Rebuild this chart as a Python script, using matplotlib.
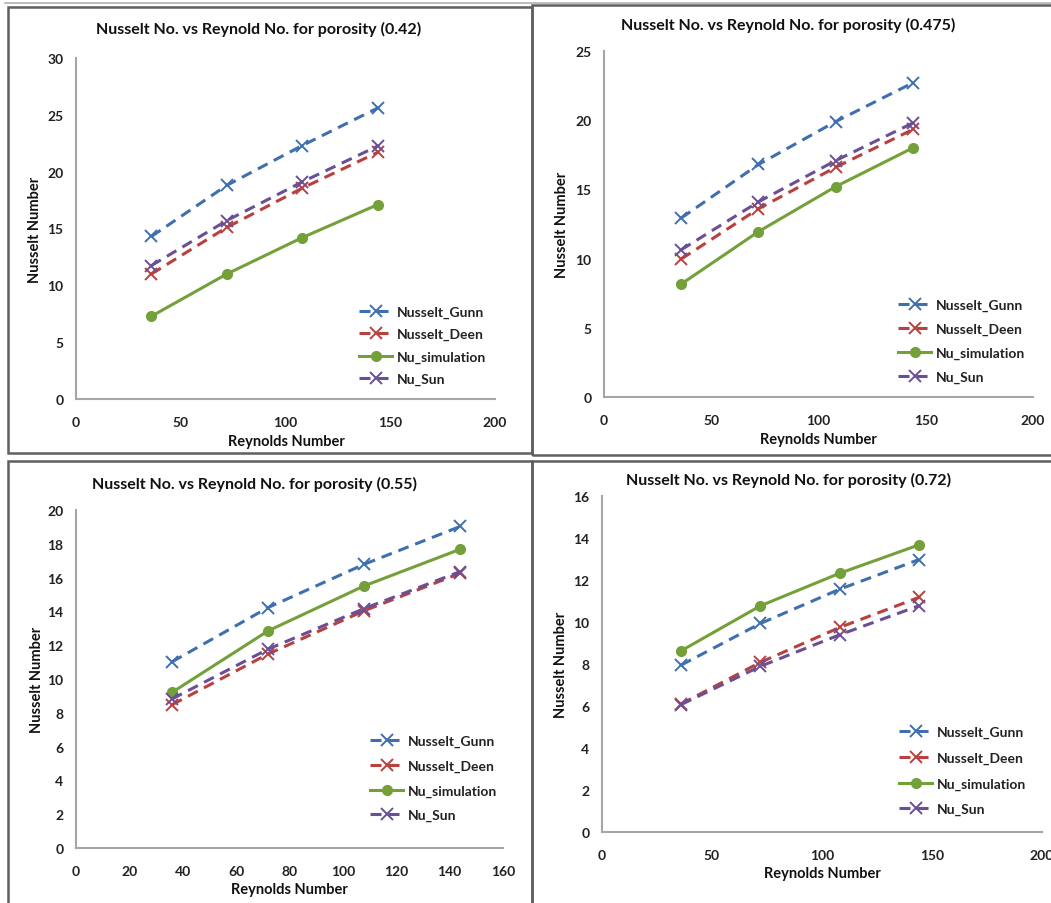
import matplotlib
matplotlib.use("Agg")
import matplotlib.pyplot as plt
from matplotlib.patches import Rectangle
from matplotlib.lines import Line2D

# ---------------- data ----------------
reynolds = [36, 72, 108, 144]

porosity_labels = ["0.42", "0.475", "0.55", "0.72"]

gunn_042 = [14.3, 18.8, 22.3, 25.6]
deen_042 = [11.0, 15.1, 18.55, 21.7]
sim_042 = [7.28, 11.0, 14.2, 17.1]
sun_042 = [11.74, 15.7, 19.1, 22.25]

gunn_0475 = [12.93, 16.8, 19.9, 22.7]
deen_0475 = [9.97, 13.6, 16.6, 19.33]
sim_0475 = [8.16, 11.95, 15.2, 18.0]
sun_0475 = [10.64, 14.1, 17.08, 19.8]

gunn_055 = [11.02, 14.23, 16.79, 19.03]
deen_055 = [8.48, 11.48, 14.04, 16.26]
sim_055 = [9.21, 12.85, 15.51, 17.68]
sun_055 = [8.82, 11.77, 14.17, 16.36]

gunn_072 = [7.95, 9.93, 11.56, 12.97]
deen_072 = [6.1, 8.08, 9.74, 11.17]
sim_072 = [8.63, 10.77, 12.32, 13.67]
sun_072 = [6.07, 7.89, 9.39, 10.77]

series_names = ["Nusselt_Gunn", "Nusselt_Deen", "Nu_simulation", "Nu_Sun"]

xlims = [(0, 200), (0, 200), (0, 160), (0, 200)]
xsteps = [50, 50, 20, 50]
ylims = [(0, 30), (0, 25), (0, 20), (0, 16)]
ysteps = [5, 5, 2, 2]

# ---------------- style ----------------
W, H = 1051, 904
FONT = ["Lato", "DejaVu Sans"]
plt.rcParams["font.family"] = FONT
plt.rcParams["font.weight"] = "bold"

c_blue = "#3f6fae"
c_red = "#b8403e"
c_green = "#74a03a"
c_purple = "#6a4f96"
frame_col = "#5f5f5f"
axis_col = "#a6a6a6"
dash = (0, (3.6, 2.3))

fig = plt.figure(figsize=(W / 100, H / 100), dpi=100)
fig.patch.set_facecolor("white")


def fx(px):
    return px / W


def fy(py):
    return 1 - py / H


# panel frames (pixel boxes)
frames = [(8, 8, 532, 454), (532, 6, 1060, 456), (8, 462, 532, 910), (532, 462, 1060, 910)]
for (x0, y0, x1, y1) in frames:
    fig.patches.append(Rectangle((fx(x0), fy(y1)), fx(x1 - x0), (y1 - y0) / H,
                                 transform=fig.transFigure, fill=False,
                                 edgecolor=frame_col, linewidth=1.8, zorder=0))
fig.add_artist(Line2D([fx(5), fx(1051)], [fy(3.5), fy(3.5)], transform=fig.transFigure,
                      color="#b0b0b0", linewidth=1.2))

# axes boxes in pixels: left, top, right, bottom
boxes = [(76, 59, 495, 400), (604, 52, 1033, 398), (76, 511, 503, 849), (602, 497, 1042, 833)]
titles_pos = [(259, 29), (788, 25), (255, 484), (789, 480)]
ylab_pos = [(35, 230), (562, 225), (37, 680), (561, 665)]
xlab_pos = [(286, 442), (818, 440), (289, 890), (822, 874)]
legend_anchor = [(359, 307), (898, 300), (370, 736), (899, 727)]
legend_spacing = [0.72, 0.85, 0.9, 0.97]

data = [
    (gunn_042, deen_042, sim_042, sun_042),
    (gunn_0475, deen_0475, sim_0475, sun_0475),
    (gunn_055, deen_055, sim_055, sun_055),
    (gunn_072, deen_072, sim_072, sun_072),
]

for i in range(4):
    l, t, r, b = boxes[i]
    ax = fig.add_axes([fx(l), fy(b), (r - l) / W, (b - t) / H])
    gunn, deen, sim, sun = data[i]
    ax.plot(reynolds, gunn, color=c_blue, linestyle=dash, linewidth=2.2,
            marker="x", markersize=9, markeredgewidth=1.4, label=series_names[0])
    ax.plot(reynolds, deen, color=c_red, linestyle=dash, linewidth=2.2,
            marker="x", markersize=9, markeredgewidth=1.4, label=series_names[1])
    ax.plot(reynolds, sim, color=c_green, linestyle="-", linewidth=2.2,
            marker="o", markersize=7, label=series_names[2])
    ax.plot(reynolds, sun, color=c_purple, linestyle=dash, linewidth=2.2,
            marker="x", markersize=9, markeredgewidth=1.4, label=series_names[3])

    ax.set_xlim(*xlims[i])
    ax.set_ylim(*ylims[i])
    ax.set_xticks(range(xlims[i][0], xlims[i][1] + 1, xsteps[i]))
    ax.set_yticks(range(ylims[i][0], ylims[i][1] + 1, ysteps[i]))
    for s in ["top", "right"]:
        ax.spines[s].set_visible(False)
    for s in ["left", "bottom"]:
        ax.spines[s].set_color(axis_col)
        ax.spines[s].set_linewidth(1.5)
    ax.tick_params(length=0, labelsize=10, colors="#222222")
    ax.tick_params(axis="x", pad=12)
    ax.tick_params(axis="y", pad=9)
    for lab in ax.get_xticklabels() + ax.get_yticklabels():
        lab.set_fontweight("bold")
    ax.patch.set_alpha(0)
    for ln in ax.lines:
        ln.set_clip_on(False)

    lx, ly = legend_anchor[i]
    leg = ax.legend(loc="upper left", bbox_to_anchor=(fx(lx), fy(ly)),
                    bbox_transform=fig.transFigure, frameon=False,
                    fontsize=10, handlelength=2.4, labelspacing=legend_spacing[i],
                    handletextpad=0.35, borderaxespad=0, borderpad=0)
    for txt in leg.get_texts():
        txt.set_color("#222222")

    tx, ty = titles_pos[i]
    fig.text(fx(tx), fy(ty), f"Nusselt No. vs Reynold No. for porosity ({porosity_labels[i]})",
             ha="center", va="center", fontsize=11.5, fontweight="bold", color="#111111")
    yx, yy = ylab_pos[i]
    fig.text(fx(yx), fy(yy), "Nusselt Number", ha="center", va="center",
             rotation=90, fontsize=10.5, fontweight="bold", color="#111111")
    xx, xy = xlab_pos[i]
    fig.text(fx(xx), fy(xy), "Reynolds Number", ha="center", va="center",
             fontsize=10.5, fontweight="bold", color="#111111")

fig.savefig("out.png", dpi=100)
